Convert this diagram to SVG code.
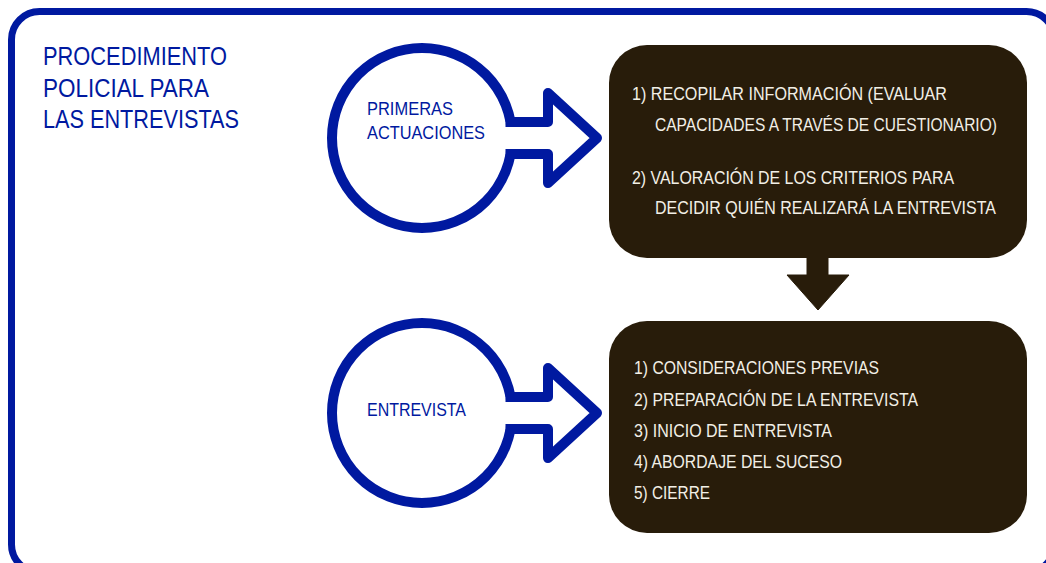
<svg xmlns="http://www.w3.org/2000/svg" width="1046" height="563" viewBox="0 0 1046 563">
  <style>
    .frame{fill:none;stroke:#0019a0;stroke-width:7}
    .ring{fill:#fff;stroke:#0019a0;stroke-width:10}
    .arrow{fill:#fff;stroke:#0019a0;stroke-width:10;stroke-linejoin:round}
    .box{fill:#281c0a}
    .down{fill:#281c0a}
    .title{font-family:"Liberation Sans",Arial,sans-serif;font-size:25px;fill:#0019a0}
    .lbl{font-family:"Liberation Sans",Arial,sans-serif;font-size:19px;fill:#0019a0}
    .item{font-family:"Liberation Sans",Arial,sans-serif;font-size:18.5px;fill:#f2efe6}
  </style>
  <rect width="1046" height="563" fill="#fff"/>
  <rect class="frame" x="11.5" y="11.5" width="1043" height="561" rx="28"/>

  <g id="title">
    <text class="title" x="43" y="65" textLength="184" lengthAdjust="spacingAndGlyphs">PROCEDIMIENTO</text>
    <text class="title" x="43" y="97" textLength="166" lengthAdjust="spacingAndGlyphs">POLICIAL PARA</text>
    <text class="title" x="43" y="128" textLength="196" lengthAdjust="spacingAndGlyphs">LAS ENTREVISTAS</text>
  </g>

  <g id="node-primeras">
    <circle class="ring" cx="422" cy="138" r="90"/>
    <text class="lbl" x="367" y="115" textLength="86" lengthAdjust="spacingAndGlyphs">PRIMERAS</text>
    <text class="lbl" x="367" y="139" textLength="118" lengthAdjust="spacingAndGlyphs">ACTUACIONES</text>
  </g>

  <g id="node-entrevista">
    <circle class="ring" cx="422" cy="413" r="90"/>
    <text class="lbl" x="367" y="416" textLength="99" lengthAdjust="spacingAndGlyphs">ENTREVISTA</text>
  </g>

  <g id="box-primeras">
    <rect class="box" x="609" y="45" width="418" height="213" rx="38"/>
    <g transform="scale(0.83,1)">
      <text class="item" x="761.45" y="100" textLength="379.5" lengthAdjust="spacingAndGlyphs">1) RECOPILAR INFORMACIÓN (EVALUAR</text>
      <text class="item" x="789.16" y="131" textLength="412" lengthAdjust="spacingAndGlyphs">CAPACIDADES A TRAVÉS DE CUESTIONARIO)</text>
      <text class="item" x="761.45" y="184" textLength="388" lengthAdjust="spacingAndGlyphs">2) VALORACIÓN DE LOS CRITERIOS PARA</text>
      <text class="item" x="789.16" y="214" textLength="410.8" lengthAdjust="spacingAndGlyphs">DECIDIR QUIÉN REALIZARÁ LA ENTREVISTA</text>
    </g>
  </g>

  <g id="box-entrevista">
    <rect class="box" x="609" y="321" width="418" height="212" rx="38"/>
    <g transform="scale(0.83,1)">
      <text class="item" x="763.86" y="374" textLength="295.2" lengthAdjust="spacingAndGlyphs">1) CONSIDERACIONES PREVIAS</text>
      <text class="item" x="763.86" y="406" textLength="342.2" lengthAdjust="spacingAndGlyphs">2) PREPARACIÓN DE LA ENTREVISTA</text>
      <text class="item" x="763.86" y="437" textLength="238.6" lengthAdjust="spacingAndGlyphs">3) INICIO DE ENTREVISTA</text>
      <text class="item" x="763.86" y="468" textLength="250.6" lengthAdjust="spacingAndGlyphs">4) ABORDAJE DEL SUCESO</text>
      <text class="item" x="763.86" y="499" textLength="91.6" lengthAdjust="spacingAndGlyphs">5) CIERRE</text>
    </g>
  </g>

  <g id="connectors">
    <path class="arrow" d="M505.5,122 H548 V93 L597,138 L548,183 V154 H505.5"/>
    <path class="arrow" d="M505.5,397 H548 V368 L597,413 L548,458 V429 H505.5"/>
    <path class="down" d="M807,256 H828 V275 H849 L818,310 L787,275 H807 Z" stroke="#281c0a" stroke-width="1" stroke-linejoin="round"/>
  </g>
</svg>
